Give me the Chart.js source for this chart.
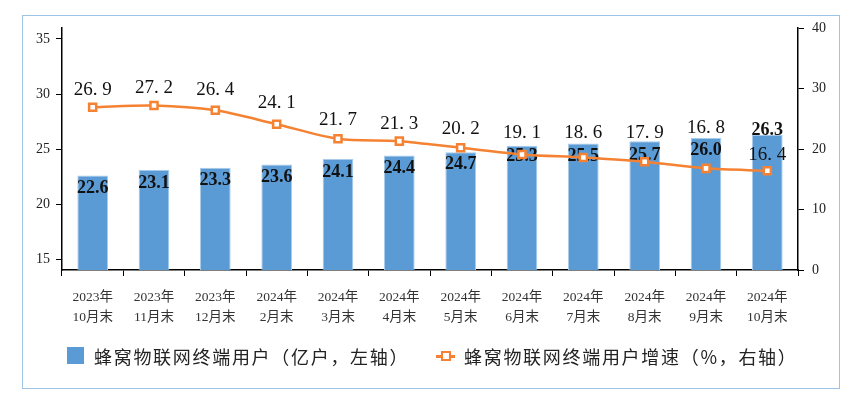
<!DOCTYPE html>
<html>
<head>
<meta charset="utf-8">
<script src="https://cdn.jsdelivr.net/npm/chart.js@4"></script>
<style>
  html, body { margin: 0; padding: 0; background: #fff; }
  #wrap { position: relative; width: 857px; height: 393px; }
  #frame { position: absolute; left: 22px; top: 15px; width: 818px; height: 374px; border: 1.5px solid #9DC3E6; box-sizing: border-box; }
  canvas { position: absolute; left: 0; top: 0; }
  .legend { position: absolute; top: 343px; font-family: "Noto Sans CJK SC", sans-serif; font-size: 18px; color: #222; letter-spacing: 1.7px; line-height: 26px; white-space: nowrap; }
  .sq { position: absolute; left: 67px; top: 347px; width: 17px; height: 17px; background: #5B9BD5; }
  .ln { position: absolute; left: 436px; top: 355px; width: 19px; height: 3px; background: #F58232; }
  .pt { position: absolute; left: 441px; top: 351px; width: 6px; height: 6px; background: #fff; border: 2.5px solid #F58232; }
</style>
</head>
<body>
<div id="wrap">
  <div id="frame"></div>
  <canvas id="chart" width="857" height="393"></canvas>
  <div class="sq"></div>
  <div class="legend" style="left:94px">蜂窝物联网终端用户（亿户，左轴）</div>
  <div class="ln"></div><div class="pt"></div>
  <div class="legend" style="left:464px">蜂窝物联网终端用户增速（%，右轴）</div>
</div>
<script>
// 数据
const years = ['2023年', '2023年', '2023年', '2024年', '2024年', '2024年', '2024年', '2024年', '2024年', '2024年', '2024年', '2024年'];
const months = ['10月末', '11月末', '12月末', '2月末', '3月末', '4月末', '5月末', '6月末', '7月末', '8月末', '9月末', '10月末'];
const users = [22.6, 23.1, 23.3, 23.6, 24.1, 24.4, 24.7, 25.3, 25.5, 25.7, 26.0, 26.3];
const growth = [26.9, 27.2, 26.4, 24.1, 21.7, 21.3, 20.2, 19.1, 18.6, 17.9, 16.8, 16.4];
const leftTicks = [15, 20, 25, 30, 35];
const rightTicks = [0, 10, 20, 30, 40];

// 标签位置微调（像素，原图中为避让而手动挪动过）
const barLabelDy = [13, 13, 13, 13, 13, 13, 12, 11, 13, 14, 12, -4];
const lineLabelDy = [-17, -17, -20, -21, -19, -17, -19, -21, -24, -29, -40, -16];

const serif = '"Liberation Serif", "Noto Sans CJK SC", serif';

// 数值标签
const valueLabels = {
    id: 'valueLabels',
    afterDatasetDraw(chart, args) {
        const c = chart.ctx;
        const meta = args.meta;
        c.save();
        c.textAlign = 'center';
        c.textBaseline = 'middle';
        c.fillStyle = '#111';
        if (meta.type === 'bar') {
            c.font = 'bold 18px ' + serif;
            meta.data.forEach((el, i) => {
                c.fillText(users[i].toFixed(1), el.x, el.y + barLabelDy[i]);
            });
        } else {
            c.font = '19px ' + serif;
            meta.data.forEach((el, i) => {
                c.fillText(growth[i].toFixed(1).replace('.', '. '), el.x, el.y + lineLabelDy[i]);
            });
        }
        c.restore();
    }
};

const ctx = document.getElementById('chart').getContext('2d');
const chart = new Chart(ctx, {
    data: {
        labels: years.map((y, i) => [y, months[i]]),
        datasets: [{
            type: 'line',
            label: '蜂窝物联网终端用户增速（%，右轴）',
            data: growth,
            yAxisID: 'y2',
            order: 0,
            borderColor: '#F58232',
            borderWidth: 2.5,
            tension: 0.3,
            pointStyle: 'rect',
            pointRadius: 5,
            pointBackgroundColor: '#fff',
            pointBorderColor: '#F58232',
            pointBorderWidth: 2.5
        }, {
            type: 'bar',
            label: '蜂窝物联网终端用户（亿户，左轴）',
            data: users,
            yAxisID: 'y',
            order: 1,
            backgroundColor: '#5B9BD5',
            borderColor: '#A9CBEA',
            borderWidth: 1,
            barPercentage: 0.5,
            categoryPercentage: 1.0
        }]
    },
    options: {
        responsive: false,
        animation: false,
        layout: { padding: { left: 0, right: 17, top: 28, bottom: 0 } },
        plugins: { legend: { display: false }, tooltip: { enabled: false } },
        scales: {
            x: {
                offset: true,
                grid: { display: true, drawOnChartArea: false, offset: true, color: '#000', tickLength: 6, tickWidth: 1 },
                border: { color: '#000', width: 1.5 },
                ticks: { color: '#333', padding: 12, maxRotation: 0, autoSkip: false, font: { family: serif, size: 13.5, lineHeight: 1.45 } },
                afterFit(s) { s.height = 123; }
            },
            y: {
                position: 'left',
                min: 14, max: 36,
                afterBuildTicks(s) { s.ticks = leftTicks.map(v => ({ value: v })); },
                grid: { display: true, drawOnChartArea: false, color: '#000', tickLength: 6 },
                border: { color: '#000', width: 1.5 },
                ticks: { color: '#222', padding: 6, font: { family: serif, size: 14 } },
                afterFit(s) { s.width = 62; }
            },
            y2: {
                position: 'right',
                min: 0, max: 40,
                afterBuildTicks(s) { s.ticks = rightTicks.map(v => ({ value: v })); },
                grid: { display: true, drawOnChartArea: false, color: '#000', tickLength: 6 },
                border: { color: '#000', width: 1.5 },
                ticks: { color: '#222', padding: 8, font: { family: serif, size: 14 } },
                afterFit(s) { s.width = 42; }
            }
        }
    },
    plugins: [valueLabels]
});
</script>
</body>
</html>
